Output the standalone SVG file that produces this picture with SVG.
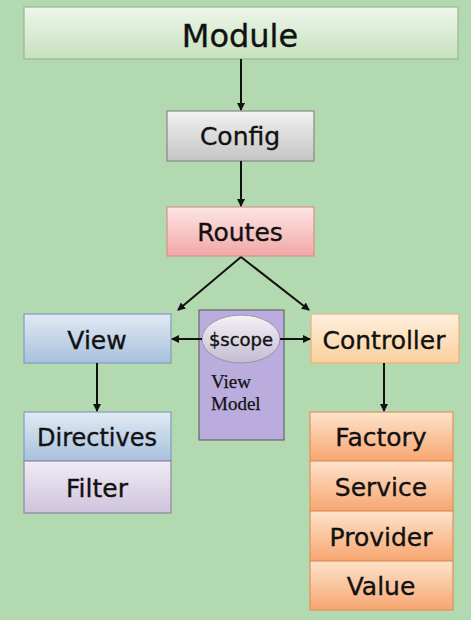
<svg xmlns="http://www.w3.org/2000/svg" width="471" height="620" viewBox="0 0 471 620">
<defs>
<linearGradient id="gMod" x1="0" y1="0" x2="0" y2="1"><stop offset="0" stop-color="#eef6ea"/><stop offset="1" stop-color="#c6e1bd"/></linearGradient>
<linearGradient id="gCfg" x1="0" y1="0" x2="0" y2="1"><stop offset="0" stop-color="#f2f2f2"/><stop offset="1" stop-color="#c4c4c4"/></linearGradient>
<linearGradient id="gRt" x1="0" y1="0" x2="0" y2="1"><stop offset="0" stop-color="#fde6e6"/><stop offset="1" stop-color="#f2a6a6"/></linearGradient>
<linearGradient id="gBlue" x1="0" y1="0" x2="0" y2="1"><stop offset="0" stop-color="#e0eaf4"/><stop offset="1" stop-color="#a8c1dc"/></linearGradient>
<linearGradient id="gPeach" x1="0" y1="0" x2="0" y2="1"><stop offset="0" stop-color="#fef0de"/><stop offset="1" stop-color="#fbcf9c"/></linearGradient>
<linearGradient id="gLav" x1="0" y1="0" x2="0" y2="1"><stop offset="0" stop-color="#f1ecf5"/><stop offset="1" stop-color="#cdc3dc"/></linearGradient>
<linearGradient id="gOr" x1="0" y1="0" x2="0" y2="1"><stop offset="0" stop-color="#fde3cc"/><stop offset="1" stop-color="#f7a670"/></linearGradient>
<linearGradient id="gEl" x1="0" y1="0" x2="0" y2="1"><stop offset="0" stop-color="#f4f1f6"/><stop offset="1" stop-color="#c4bbd3"/></linearGradient>
<marker id="ah" markerWidth="8" markerHeight="8" refX="7" refY="4" orient="auto" markerUnits="userSpaceOnUse"><path d="M0,0 L8,4 L0,8 Z" fill="#111"/></marker>
<style>
.lbl{font-family:"DejaVu Sans","Verdana",sans-serif;fill:#111;text-anchor:middle;stroke:#111;stroke-width:0.35}
.box{stroke-width:1.2}
.conn line{stroke:#111;stroke-width:2;marker-end:url(#ah)}
.vm{font-family:"Liberation Serif",serif;font-size:19px;fill:#111;stroke:#111;stroke-width:0.25}
</style>
</defs>
<rect x="0" y="0" width="471" height="620" fill="#b3d9b0"/>

<g id="module"><rect class="box" x="24" y="7" width="434" height="52" fill="url(#gMod)" stroke="#9bb596"/><text class="lbl" x="240" y="47" font-size="32">Module</text></g>
<g id="config"><rect class="box" x="167" y="111" width="147" height="50" fill="url(#gCfg)" stroke="#888"/><text class="lbl" x="240" y="145" font-size="25">Config</text></g>
<g id="routes"><rect class="box" x="167" y="207" width="147" height="49" fill="url(#gRt)" stroke="#d88f8f"/><text class="lbl" x="240" y="241" font-size="25">Routes</text></g>

<g id="viewmodel"><rect x="199" y="310" width="85" height="130" fill="#baadde" stroke="#555" stroke-width="1"/>
<ellipse cx="241" cy="339" rx="39" ry="24" fill="url(#gEl)" stroke="#9a92a8" stroke-width="1"/>
<text class="lbl" x="241" y="346" font-size="18">$scope</text>
<text class="vm" x="211" y="388">View</text>
<text class="vm" x="211" y="410">Model</text></g>

<g id="view"><rect class="box" x="24" y="314" width="147" height="49" fill="url(#gBlue)" stroke="#7f9dbf"/><text class="lbl" x="97" y="349" font-size="25">View</text></g>
<g id="controller"><rect class="box" x="311" y="314" width="148" height="49" fill="url(#gPeach)" stroke="#e8b27c"/><text class="lbl" x="384" y="349" font-size="25">Controller</text></g>

<g id="directives"><rect class="box" x="24" y="412" width="147" height="49" fill="url(#gBlue)" stroke="#7f9dbf"/><text class="lbl" x="97" y="446" font-size="24">Directives</text></g>
<g id="filter"><rect class="box" x="24" y="461" width="147" height="52" fill="url(#gLav)" stroke="#8f86a0"/><text class="lbl" x="97" y="497" font-size="25">Filter</text></g>

<g id="factory"><rect class="box" x="310" y="412" width="143" height="49" fill="url(#gOr)" stroke="#e0925d"/><text class="lbl" x="381" y="446" font-size="25">Factory</text></g>
<g id="service"><rect class="box" x="310" y="461" width="143" height="50" fill="url(#gOr)" stroke="#e0925d"/><text class="lbl" x="381" y="496" font-size="25">Service</text></g>
<g id="provider"><rect class="box" x="310" y="511" width="143" height="50" fill="url(#gOr)" stroke="#e0925d"/><text class="lbl" x="381" y="546" font-size="25">Provider</text></g>
<g id="value"><rect class="box" x="310" y="561" width="143" height="49" fill="url(#gOr)" stroke="#e0925d"/><text class="lbl" x="381" y="595" font-size="25">Value</text></g>

<g id="connectors" class="conn">
<line x1="241" y1="59" x2="241" y2="110"/>
<line x1="241" y1="161" x2="241" y2="206"/>
<line x1="241" y1="257" x2="178" y2="310"/>
<line x1="241" y1="257" x2="309" y2="310"/>
<line x1="202" y1="339" x2="172" y2="339"/>
<line x1="280" y1="339" x2="310" y2="339"/>
<line x1="97" y1="363" x2="97" y2="411"/>
<line x1="384" y1="363" x2="384" y2="411"/>
</g>
</svg>
